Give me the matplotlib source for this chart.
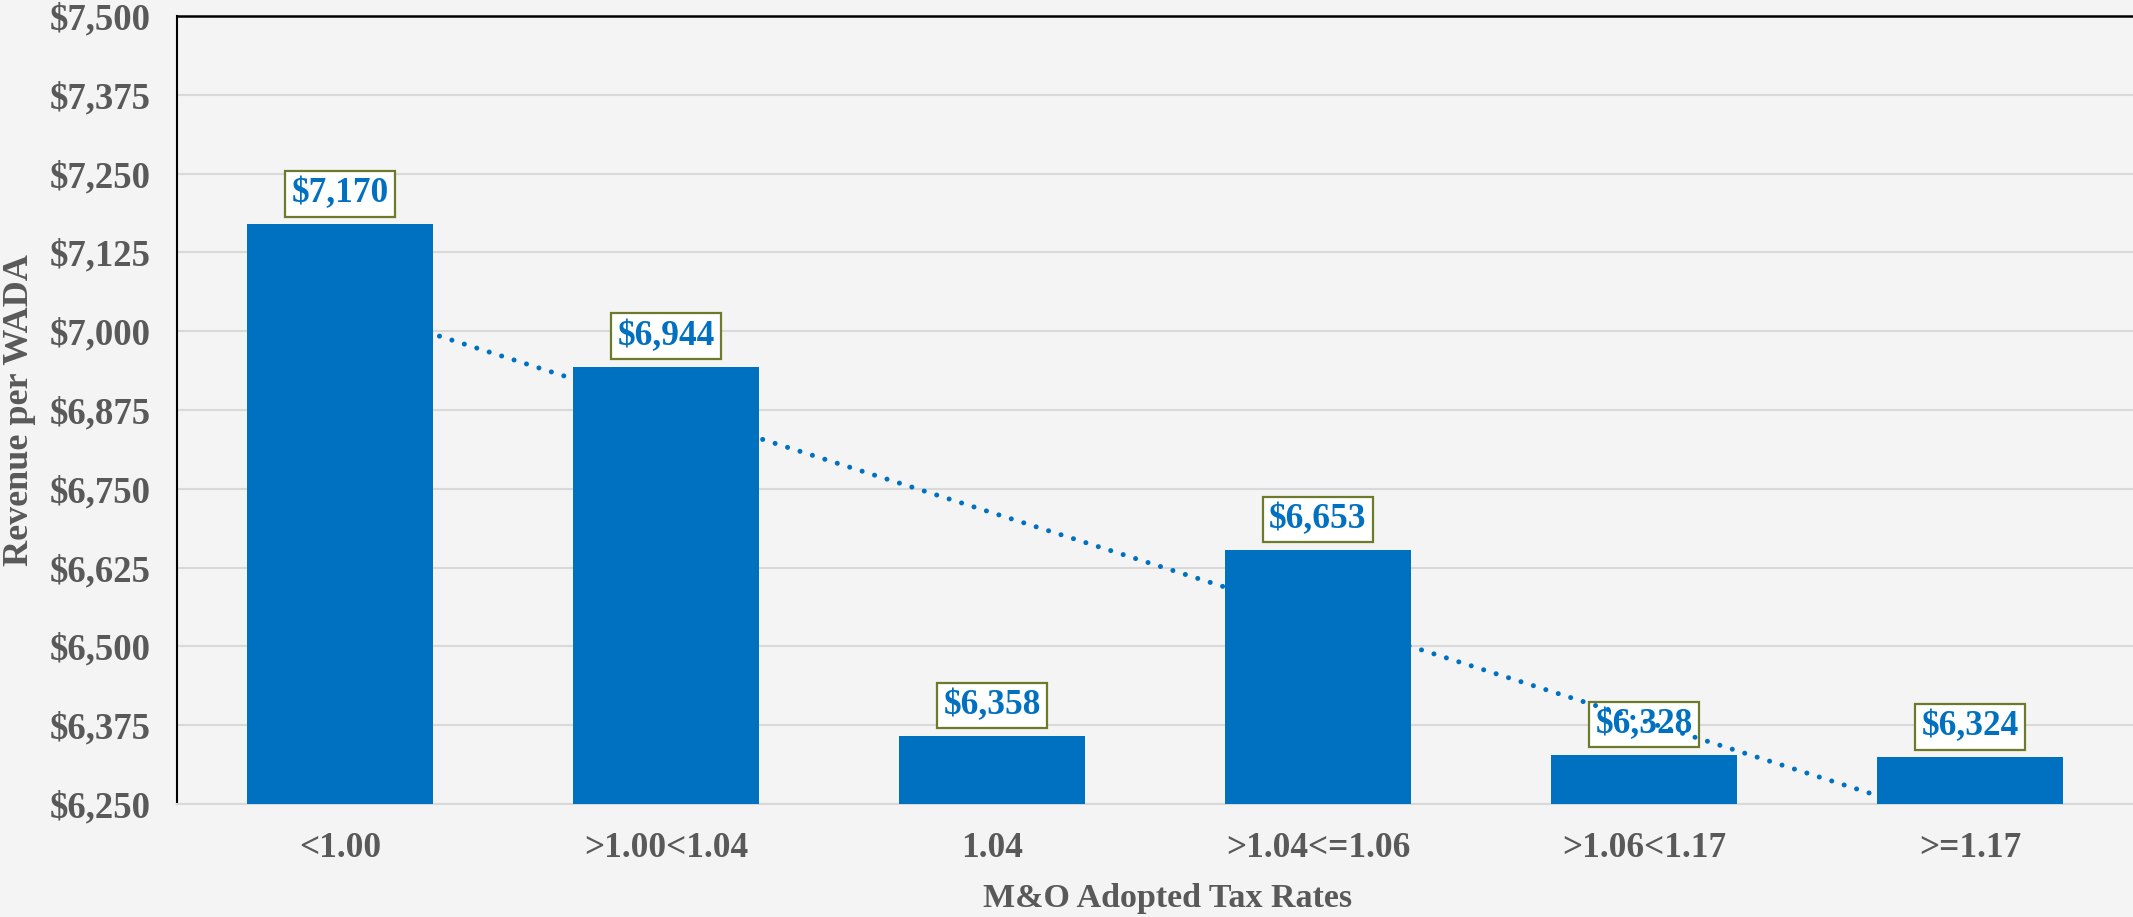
import numpy as np
import matplotlib
matplotlib.use("Agg")
import matplotlib.pyplot as plt
from matplotlib.ticker import FuncFormatter

categories = ["<1.00", ">1.00<1.04", "1.04", ">1.04<=1.06", ">1.06<1.17", ">=1.17"]
values = [7170, 6944, 6358, 6653, 6328, 6324]
y_ticks = [6250, 6375, 6500, 6625, 6750, 6875, 7000, 7125, 7250, 7375, 7500]

BLUE = "#0070C0"
GRAY = "#595959"
BG = "#F4F4F4"
plt.rcParams['font.family'] = ['Liberation Serif', 'DejaVu Serif']

fig = plt.figure(figsize=(21.33, 9.17), dpi=100, facecolor=BG)
ax = fig.add_axes([177/2133, 113/917, 1 - 177/2133, (804-16)/917])
ax.set_facecolor(BG)

x = np.arange(len(categories))
ax.bar(x, values, width=0.57, color=BLUE, zorder=4)

# linear trendline
coef = np.polyfit(x + 1, values, 1)
xt = np.array([x[0], x[-1]], dtype=float)
yt = np.polyval(coef, xt + 1)
ax.plot(xt, yt, color=BLUE, lw=3.6, linestyle=(0, (0.01, 2.6)),
        dash_capstyle='round', zorder=3)

for xi, v in zip(x, values):
    ax.annotate(f"${v:,}", (xi, v), xytext=(0, 10), textcoords='offset points',
                ha='center', va='bottom', fontsize=25.5, fontweight='bold', color=BLUE,
                bbox=dict(boxstyle='square,pad=0.18', fc='white', ec='#6B7B2A', lw=1.6),
                zorder=2)

ax.set_xlim(-0.5, len(categories) - 0.5)
ax.set_ylim(y_ticks[0], y_ticks[-1])
ax.set_yticks(y_ticks)
ax.yaxis.set_major_formatter(FuncFormatter(lambda v, p: f"${int(v):,}"))
ax.set_xticks(x)
ax.set_xticklabels(categories)
ax.grid(axis='y', color='#D9D9D9', lw=1.5, zorder=0)
ax.set_axisbelow(True)
ax.tick_params(axis='x', length=0, labelsize=25.5, labelcolor=GRAY, pad=20)
ax.tick_params(axis='y', length=0, labelsize=26.5, labelcolor=GRAY, pad=19)
for lbl in ax.get_xticklabels() + ax.get_yticklabels():
    lbl.set_fontweight('bold')

ax.spines['right'].set_visible(False)
ax.spines['top'].set_color('black')
ax.spines['top'].set_linewidth(1.8)
ax.spines['left'].set_color('black')
ax.spines['left'].set_linewidth(1.5)
ax.spines['bottom'].set_color('#D9D9D9')
ax.spines['bottom'].set_linewidth(1.5)

fig.text(1168/2133, 19/917, "M&O Adopted Tax Rates", ha='center', va='center',
         fontsize=24.5, fontweight='bold', color=GRAY)
fig.text(20/2133, 1 - 410/917, "Revenue per WADA", ha='center', va='center', rotation=90,
         fontsize=26, fontweight='bold', color=GRAY)

fig.savefig("out.png", dpi=100, facecolor=BG)
